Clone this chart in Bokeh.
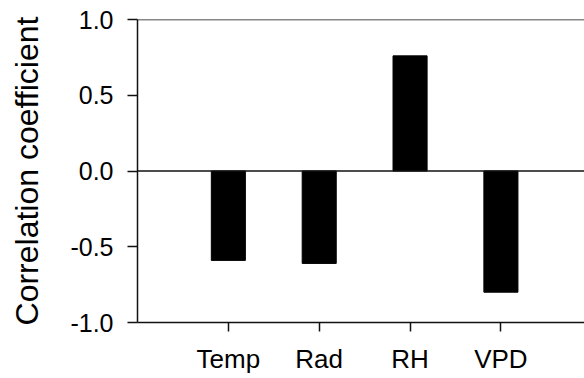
from bokeh.plotting import figure
from bokeh.models import ColumnDataSource, Range1d, FixedTicker, Span
from bokeh.embed import file_html
from bokeh.resources import INLINE

categories = ["Temp", "Rad", "RH", "VPD"]
positions = [1, 2, 3, 4]
values = [-0.59, -0.61, 0.76, -0.80]
y_ticks = [-1.0, -0.5, 0.0, 0.5, 1.0]

FONT = "Liberation Sans"
INK = "#111111"

src = ColumnDataSource(dict(x=positions, top=values, cat=categories))

p = figure(width=584, height=378, output_backend="svg", toolbar_location=None,
           x_range=Range1d(0, 4.92), y_range=Range1d(-1.0, 1.0),
           min_border_left=137, min_border_top=19, min_border_bottom=56, min_border_right=0)

p.vbar(x="x", top="top", bottom=0, width=0.375, source=src,
       fill_color="black", line_color="black")

p.add_layout(Span(location=0, dimension="width", line_color=INK, line_width=1.5))
p.add_layout(Span(location=1, dimension="width", line_color=INK, line_width=1.5))

p.outline_line_color = None
p.background_fill_color = "white"
p.border_fill_color = "white"
p.xgrid.grid_line_color = None
p.ygrid.grid_line_color = None

xa = p.xaxis[0]
xa.ticker = FixedTicker(ticks=positions)
xa.major_label_overrides = {pos: c for pos, c in zip(positions, categories)}
xa.minor_tick_line_color = None
xa.major_tick_in = 0
xa.major_tick_out = 9
xa.major_label_standoff = 12
xa.major_label_text_font = FONT
xa.major_label_text_font_size = "26px"
xa.major_label_text_color = "black"
xa.axis_line_color = INK
xa.axis_line_width = 1.5
xa.major_tick_line_color = INK
xa.major_tick_line_width = 1.5

ya = p.yaxis[0]
ya.ticker = FixedTicker(ticks=y_ticks)
ya.major_label_overrides = {t: f"{t:.1f}" for t in y_ticks}
ya.minor_tick_line_color = None
ya.major_tick_in = 0
ya.major_tick_out = 10
ya.major_label_standoff = 14
ya.major_label_text_font = FONT
ya.major_label_text_font_size = "25px"
ya.major_label_text_color = "black"
ya.axis_line_color = INK
ya.axis_line_width = 1.5
ya.major_tick_line_color = INK
ya.major_tick_line_width = 1.5
ya.axis_label = "Correlation coefficient"
ya.axis_label_text_font = FONT
ya.axis_label_text_font_size = "32px"
ya.axis_label_text_font_style = "normal"
ya.axis_label_text_color = "black"
ya.axis_label_standoff = 22

open("out.html", "w").write(file_html(p, INLINE))
